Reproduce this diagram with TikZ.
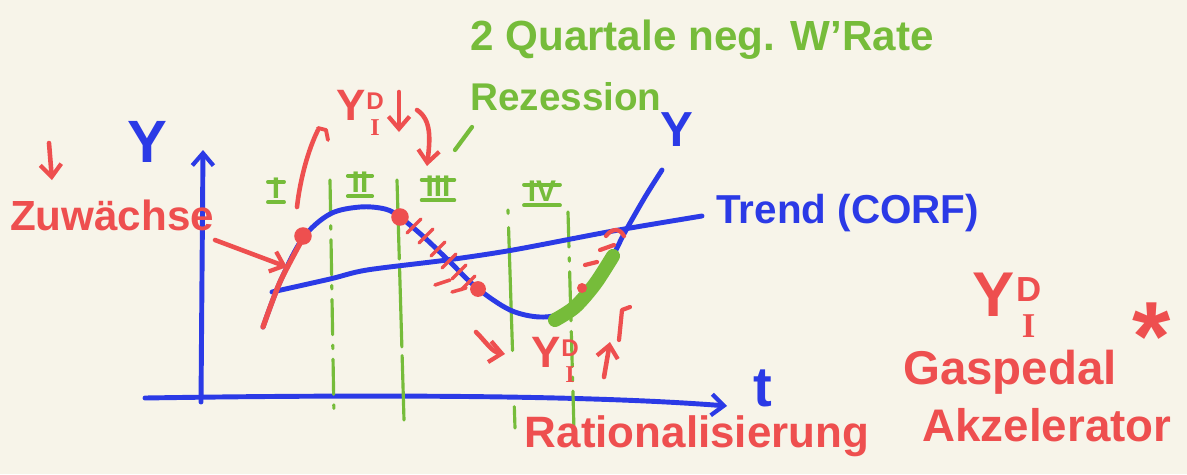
\documentclass[tikz,border=0pt]{standalone}
\usepackage{fontspec}
\setmainfont{Liberation Sans}
\newfontfamily\serifI{Liberation Serif}
\usetikzlibrary{arrows.meta}
\definecolor{bg}{HTML}{F7F4E9}
\definecolor{pblue}{HTML}{2B3AE6}
\definecolor{pred}{HTML}{EE4F4F}
\definecolor{pgreen}{HTML}{76BC3A}
\newcommand{\ydistack}{Y\kern0.02em\raisebox{-0.34em}{\scalebox{0.55}{\shortstack{D\\[0.3em]{\serifI\bfseries I}}}}}
\tikzset{
  bl/.style={draw=pblue, line width=2.8pt, line cap=round, line join=round},
  rd/.style={draw=pred, line width=2.6pt, line cap=round, line join=round},
  gr/.style={draw=pgreen, line width=1.8pt, line cap=round},
  grdash/.style={gr, dash pattern=on 20pt off 6pt on 2pt off 6pt},
  barb/.style={-{Straight Barb[length=7pt,width=12pt,line width=2.4pt]}},
  txt/.style={inner sep=0pt, font=\bfseries},
  redtxt/.style={txt, text=pred},
  bluetxt/.style={txt, text=pblue},
  greentxt/.style={txt, text=pgreen},
  rom/.style={greentxt, font=\fontsize{17}{18}\bfseries, text height=0.72em, text depth=0pt},
  dot/.style={circle, fill=pred, minimum size=10pt, inner sep=0pt},
}
\begin{document}
\begin{tikzpicture}[x=0.02cm, y=-0.02cm]
\fill[bg] (0,0) rectangle (1187,474);
\useasboundingbox (0,0) rectangle (1187,474);

% axes
\coordinate (O) at (201,402);
\coordinate (ytop) at (203,150);
\coordinate (tstart) at (145,398);
\coordinate (tend) at (727,406);
\draw[bl, barb] (O) -- (ytop);
\draw[bl, barb] (tstart) .. controls (400,394) and (600,396) .. (tend);
\node[bluetxt, font=\fontsize{34}{36}\bfseries] (ylab) at (147,142) {Y};
\node[bluetxt, font=\fontsize{32}{34}\bfseries, text height=0.62em, text depth=0pt] (tlab) at (763,401) {t};

% green dashed section lines
\coordinate (g1a) at (330,180); \coordinate (g1b) at (334,416);
\coordinate (g2a) at (397,180); \coordinate (g2b) at (404,420);
\coordinate (g3a) at (508,210); \coordinate (g3b) at (515,428);
\coordinate (g4a) at (568,212); \coordinate (g4b) at (574,430);
\draw[grdash] (g1a) -- (g1b);
\draw[gr, dash pattern=on 45pt off 5pt] (g2a) -- (g2b);
\draw[gr, dash pattern=on 2pt off 8pt on 70pt off 32pt on 14pt off 4pt] (g3a) -- (g3b);
\draw[grdash] (g4a) -- (g4b);

% trend line
\draw[bl] plot[smooth, tension=0.5] coordinates {(272,292) (330,279) (367,270) (447,260) (513,250) (613,231) (702,216)};
\node[bluetxt, font=\fontsize{23}{25}\bfseries, anchor=west] (trend) at (716,213) {Trend (CORF)};

% cycle curve
\draw[bl] plot[smooth, tension=0.55] coordinates {(263,327) (280,282) (303,238) (330,214) (360,207) (385,209) (400,217) (425,238) (450,262) (477,288) (510,310) (540,317) (565,312) (590,291) (612,257) (625,232) (645,197) (662,170)};
\node[bluetxt, font=\fontsize{28}{30}\bfseries] (yend) at (677,130) {Y};

% green thick segment
\draw[pgreen, line width=8pt, line cap=round] plot[smooth, tension=0.5] coordinates {(555,320) (575,307) (595,284) (613,256)};

% red overlay at start
\draw[rd, line width=3pt] plot[smooth, tension=0.5] coordinates {(263,327) (280,282) (303,238)};
\node[dot] (d1) at (303,236) {};
\node[dot] (d2) at (400,217) {};
\node[dot, minimum size=9pt] (d3) at (478,289) {};

% red hatches on falling part
\foreach \x/\y in {414/226, 426/236, 438/249, 449/261, 459/272, 468/283} {
  \draw[rd, line width=2pt] ({\x-7},{\y+7}) -- ({\x+7},{\y-7});
}
\draw[rd, line width=2pt] (435,285) -- (450,280);
\draw[rd, line width=2pt] (452,292) -- (466,288);

% red marks on rising part
\draw[rd, line width=2.4pt] (606,236) .. controls (612,228) and (620,228) .. (624,236);
\draw[rd, line width=2.4pt] (600,250) -- (614,245);
\draw[rd, line width=2.4pt] (585,265) -- (597,262);
\fill[pred] (582,288) circle (5);

% Roman numerals
\node[rom] (r1) at (276,192) {I};
\node[rom] (r2) at (360,186) {II};
\node[rom] (r3) at (438,190) {III};
\node[rom] (r4) at (542,195) {IV};
\foreach \n in {r1,r2,r3,r4} {
  \draw[gr, line width=2.2pt] ([xshift=-2pt,yshift=2pt]\n.north west) -- ([xshift=2pt,yshift=2pt]\n.north east);
  \draw[gr, line width=2.2pt] ([xshift=-2pt,yshift=-2pt]\n.south west) -- ([xshift=2pt,yshift=-2pt]\n.south east);
}

% green texts
\node[greentxt, font=\fontsize{24}{26}\bfseries, anchor=west] (quart) at (470,40) {2 Quartale neg. W'Rate};
\node[greentxt, font=\fontsize{22}{24}\bfseries, anchor=west] (rez) at (470,97) {Rezession};
\coordinate (rz1) at (472,127);
\coordinate (rz2) at (455,150);
\draw[gr, line width=2.4pt] (rz1) -- (rz2);

% left: arrow and Zuwaechse
\coordinate (a1) at (49,143);
\coordinate (a2) at (52,180);
\draw[rd, barb] (a1) -- (a2);
\node[redtxt, font=\fontsize{24}{26}\bfseries] (zuw) at (112,215) {Zuwächse};
\coordinate (z1) at (215,240);
\coordinate (z2) at (287,267);
\draw[rd, barb] (z1) -- (z2);

% top: Y^D_I with arrows
\coordinate (u1) at (297,207);
\coordinate (u2) at (318,130);
\draw[rd] (u1) .. controls (300,180) and (308,150) .. (u2);
\draw[rd, line width=2.2pt] (318,128) -- (326,130) -- (328,140);
\node[redtxt, font=\fontsize{25}{27}\bfseries] (ydtop) at (360,113) {\ydistack};
\coordinate (dn1) at (399,92);
\coordinate (dn2) at (399,132);
\draw[rd, barb] (dn1) -- (dn2);
\coordinate (c1) at (417,110);
\coordinate (c2) at (427,166);
\draw[rd, barb] (c1) .. controls (432,120) and (430,140) .. (c2);

% bottom: arrow, Y^D_I up
\coordinate (b1) at (476,332);
\coordinate (b2) at (505,354);
\draw[rd, barb] (b1) .. controls (486,342) and (492,352) .. (b2);
\node[redtxt, font=\fontsize{25}{27}\bfseries] (ydbot) at (555,360) {\ydistack};
\coordinate (up1) at (604,377);
\coordinate (up2) at (610,342);
\draw[rd, barb] (up1) -- (up2);
\draw[rd, line width=2.4pt] (619,340) -- (622,310) -- (630,307);

% bottom text
\node[redtxt, font=\fontsize{25}{27}\bfseries, text height=0.74em, text depth=0.22em] (rat) at (697,443) {Rationalisierung};

% right side
\node[redtxt, font=\fontsize{36}{38}\bfseries] (ydright) at (1007,305) {\ydistack};
\node[redtxt, font=\fontsize{56}{58}\bfseries] (star) at (1152,337) {*};
\node[redtxt, font=\fontsize{27}{29}\bfseries] (gas) at (1010,372) {Gaspedal};
\node[redtxt, font=\fontsize{26}{28}\bfseries] (akz) at (1047,425) {Akzelerator};
\end{tikzpicture}
\end{document}
